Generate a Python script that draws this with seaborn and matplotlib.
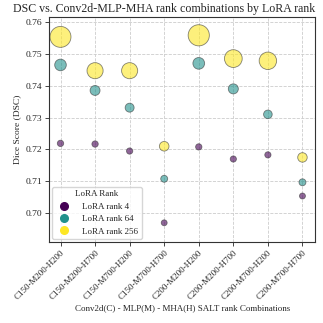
import seaborn as sns
import matplotlib.pyplot as plt
import matplotlib.lines as mlines
import pandas as pd
import numpy as np

combos = ["C150-M200-H200", "C150-M200-H700", "C150-M700-H200", "C150-M700-H700",
          "C200-M200-H200", "C200-M200-H700", "C200-M700-H200", "C200-M700-H700"]
ranks = [4, 64, 256]
dsc_rank4 = [0.7219, 0.7217, 0.7195, 0.6970, 0.7208, 0.7170, 0.7183, 0.7054]
dsc_rank64 = [0.7465, 0.7385, 0.7331, 0.7108, 0.7470, 0.7390, 0.7310, 0.7097]
dsc_rank256 = [0.7553, 0.7447, 0.7447, 0.7210, 0.7558, 0.7485, 0.7478, 0.7175]

rows = []
for r, vals in zip(ranks, [dsc_rank4, dsc_rank64, dsc_rank256]):
    vals = np.array(vals)
    norm = (vals - vals.min()) / (vals.max() - vals.min())
    for c, v, n in zip(combos, vals, norm):
        # marker area grows with rank and relative DSC within the rank
        rows.append({"combo": c, "DSC": v, "rank": r,
                     "area": (34 + r * (0.22 + 1.4 * n ** 2.2)) * 0.5184})
df = pd.DataFrame(rows)

sns.set_style("white")
plt.rcParams["font.family"] = ["Liberation Serif", "DejaVu Serif"]

palette = {4: "#440154", 64: "#21918c", 256: "#fde725"}

fig, ax = plt.subplots(figsize=(3.23, 3.23), dpi=100)
fig.subplots_adjust(left=0.152, right=0.976, top=0.947, bottom=0.251)

ax.grid(True, linestyle="--", color="#cccccc", linewidth=0.6, zorder=0)
ax.set_axisbelow(True)

sns.scatterplot(data=df, x="combo", y="DSC", hue="rank", palette=palette,
                size="area", sizes=(df["area"].min(), df["area"].max()),
                alpha=0.6, edgecolor="#333333", linewidth=0.6, legend=False, ax=ax, zorder=3)

yt = [0.70, 0.71, 0.72, 0.73, 0.74, 0.75, 0.76]
ax.set_xlim(-0.33, 7.37)
ax.set_ylim(0.691, 0.7615)
ax.set_yticks(yt)
ax.set_yticklabels([f"{t:.2f}" for t in yt])
ax.tick_params(axis="y", labelsize=6.8, length=3, width=0.6, pad=2)
ax.tick_params(axis="x", labelsize=6.5, length=3, width=0.6, pad=2)
ax.tick_params(axis="both", bottom=True, left=True)
plt.setp(ax.get_xticklabels(), rotation=45, ha="right", rotation_mode="anchor")

for s in ax.spines.values():
    s.set_color("#333333")
    s.set_linewidth(0.8)

ax.set_title("DSC vs. Conv2d-MLP-MHA rank combinations by LoRA rank", fontsize=8.55, pad=4, x=0.434)
ax.set_xlabel("Conv2d(C) - MLP(M) - MHA(H) SALT rank Combinations", fontsize=6.5, labelpad=2)
ax.set_ylabel("Dice Score (DSC)", fontsize=6.8, labelpad=3)

handles = [mlines.Line2D([], [], marker="o", linestyle="", color=palette[r], markersize=5.5,
                         label=f"LoRA rank {r}") for r in ranks]
leg = ax.legend(handles=handles, title="LoRA Rank", loc="lower left", fontsize=6.5,
                title_fontsize=6.5, frameon=True, borderaxespad=0.3, handletextpad=1.0,
                labelspacing=0.45)
leg.get_frame().set_edgecolor("#cccccc")

fig.savefig("out.png", dpi=100)
